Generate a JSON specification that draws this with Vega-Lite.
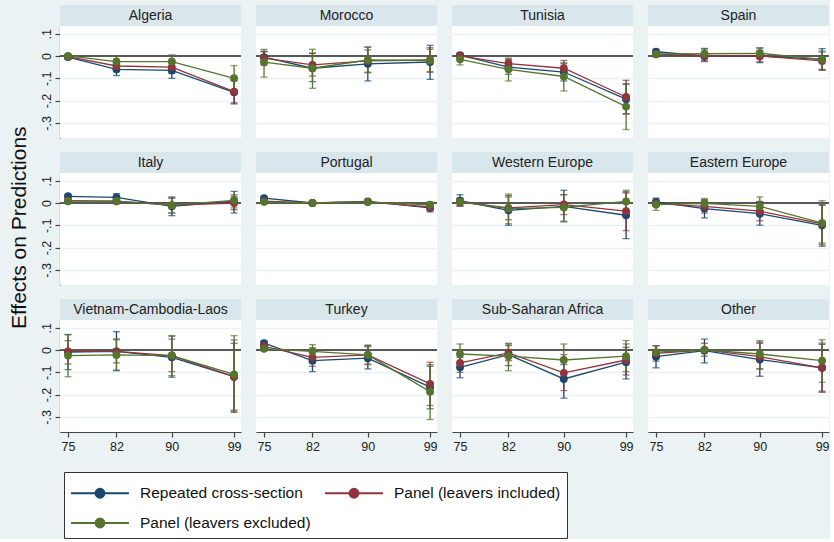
{
  "$schema": "https://vega.github.io/schema/vega-lite/v6.json",
  "background": "#eaf2f3",
  "padding": {"left": 8, "top": 5, "right": 0, "bottom": 0},
  "title": {"text": "Effects on Predictions", "orient": "left", "anchor": "middle", "fontSize": 21, "fontWeight": "normal", "font": "Liberation Sans", "color": "#111", "offset": 10, "dx": 44},
  "data": {"values": [
    {"region":"Algeria","series":"Repeated cross-section","year":75,"est":-0.005,"lo":-0.015,"hi":0.005},
    {"region":"Algeria","series":"Repeated cross-section","year":82,"est":-0.06,"lo":-0.088,"hi":-0.032},
    {"region":"Algeria","series":"Repeated cross-section","year":90,"est":-0.065,"lo":-0.1,"hi":-0.03},
    {"region":"Algeria","series":"Repeated cross-section","year":99,"est":-0.163,"lo":-0.215,"hi":-0.11},
    {"region":"Morocco","series":"Repeated cross-section","year":75,"est":-0.005,"lo":-0.035,"hi":0.02},
    {"region":"Morocco","series":"Repeated cross-section","year":82,"est":-0.055,"lo":-0.115,"hi":0.012},
    {"region":"Morocco","series":"Repeated cross-section","year":90,"est":-0.035,"lo":-0.112,"hi":0.04},
    {"region":"Morocco","series":"Repeated cross-section","year":99,"est":-0.027,"lo":-0.105,"hi":0.048},
    {"region":"Tunisia","series":"Repeated cross-section","year":75,"est":0.004,"lo":-0.006,"hi":0.014},
    {"region":"Tunisia","series":"Repeated cross-section","year":82,"est":-0.05,"lo":-0.082,"hi":-0.018},
    {"region":"Tunisia","series":"Repeated cross-section","year":90,"est":-0.072,"lo":-0.112,"hi":-0.035},
    {"region":"Tunisia","series":"Repeated cross-section","year":99,"est":-0.194,"lo":-0.26,"hi":-0.125},
    {"region":"Spain","series":"Repeated cross-section","year":75,"est":0.019,"lo":0.008,"hi":0.03},
    {"region":"Spain","series":"Repeated cross-section","year":82,"est":0.0,"lo":-0.025,"hi":0.034},
    {"region":"Spain","series":"Repeated cross-section","year":90,"est":0.0,"lo":-0.03,"hi":0.035},
    {"region":"Spain","series":"Repeated cross-section","year":99,"est":-0.015,"lo":-0.064,"hi":0.033},
    {"region":"Italy","series":"Repeated cross-section","year":75,"est":0.03,"lo":0.022,"hi":0.037},
    {"region":"Italy","series":"Repeated cross-section","year":82,"est":0.025,"lo":0.008,"hi":0.042},
    {"region":"Italy","series":"Repeated cross-section","year":90,"est":-0.015,"lo":-0.057,"hi":0.027},
    {"region":"Italy","series":"Repeated cross-section","year":99,"est":0.008,"lo":-0.045,"hi":0.052},
    {"region":"Portugal","series":"Repeated cross-section","year":75,"est":0.022,"lo":0.015,"hi":0.029},
    {"region":"Portugal","series":"Repeated cross-section","year":82,"est":0.0,"lo":-0.006,"hi":0.006},
    {"region":"Portugal","series":"Repeated cross-section","year":90,"est":0.007,"lo":0.0,"hi":0.014},
    {"region":"Portugal","series":"Repeated cross-section","year":99,"est":-0.022,"lo":-0.04,"hi":-0.006},
    {"region":"Western Europe","series":"Repeated cross-section","year":75,"est":0.01,"lo":-0.015,"hi":0.037},
    {"region":"Western Europe","series":"Repeated cross-section","year":82,"est":-0.033,"lo":-0.1,"hi":0.033},
    {"region":"Western Europe","series":"Repeated cross-section","year":90,"est":-0.015,"lo":-0.082,"hi":0.057},
    {"region":"Western Europe","series":"Repeated cross-section","year":99,"est":-0.055,"lo":-0.16,"hi":0.05},
    {"region":"Eastern Europe","series":"Repeated cross-section","year":75,"est":0.005,"lo":-0.012,"hi":0.022},
    {"region":"Eastern Europe","series":"Repeated cross-section","year":82,"est":-0.025,"lo":-0.067,"hi":0.012},
    {"region":"Eastern Europe","series":"Repeated cross-section","year":90,"est":-0.048,"lo":-0.1,"hi":0.005},
    {"region":"Eastern Europe","series":"Repeated cross-section","year":99,"est":-0.1,"lo":-0.194,"hi":-0.008},
    {"region":"Vietnam-Cambodia-Laos","series":"Repeated cross-section","year":75,"est":-0.01,"lo":-0.088,"hi":0.068},
    {"region":"Vietnam-Cambodia-Laos","series":"Repeated cross-section","year":82,"est":-0.006,"lo":-0.093,"hi":0.082},
    {"region":"Vietnam-Cambodia-Laos","series":"Repeated cross-section","year":90,"est":-0.033,"lo":-0.122,"hi":0.062},
    {"region":"Vietnam-Cambodia-Laos","series":"Repeated cross-section","year":99,"est":-0.12,"lo":-0.27,"hi":0.03},
    {"region":"Turkey","series":"Repeated cross-section","year":75,"est":0.031,"lo":0.021,"hi":0.041},
    {"region":"Turkey","series":"Repeated cross-section","year":82,"est":-0.048,"lo":-0.097,"hi":-0.003},
    {"region":"Turkey","series":"Repeated cross-section","year":90,"est":-0.037,"lo":-0.085,"hi":0.015},
    {"region":"Turkey","series":"Repeated cross-section","year":99,"est":-0.167,"lo":-0.264,"hi":-0.073},
    {"region":"Sub-Saharan Africa","series":"Repeated cross-section","year":75,"est":-0.078,"lo":-0.125,"hi":-0.033},
    {"region":"Sub-Saharan Africa","series":"Repeated cross-section","year":82,"est":-0.021,"lo":-0.07,"hi":0.02},
    {"region":"Sub-Saharan Africa","series":"Repeated cross-section","year":90,"est":-0.13,"lo":-0.216,"hi":-0.065},
    {"region":"Sub-Saharan Africa","series":"Repeated cross-section","year":99,"est":-0.055,"lo":-0.13,"hi":0.012},
    {"region":"Other","series":"Repeated cross-section","year":75,"est":-0.03,"lo":-0.08,"hi":0.019},
    {"region":"Other","series":"Repeated cross-section","year":82,"est":-0.003,"lo":-0.058,"hi":0.049},
    {"region":"Other","series":"Repeated cross-section","year":90,"est":-0.043,"lo":-0.118,"hi":0.035},
    {"region":"Other","series":"Repeated cross-section","year":99,"est":-0.08,"lo":-0.185,"hi":0.025},

    {"region":"Algeria","series":"Panel (leavers included)","year":75,"est":-0.003,"lo":-0.012,"hi":0.006},
    {"region":"Algeria","series":"Panel (leavers included)","year":82,"est":-0.045,"lo":-0.07,"hi":-0.02},
    {"region":"Algeria","series":"Panel (leavers included)","year":90,"est":-0.05,"lo":-0.078,"hi":-0.022},
    {"region":"Algeria","series":"Panel (leavers included)","year":99,"est":-0.16,"lo":-0.21,"hi":-0.11},
    {"region":"Morocco","series":"Panel (leavers included)","year":75,"est":-0.01,"lo":-0.04,"hi":0.02},
    {"region":"Morocco","series":"Panel (leavers included)","year":82,"est":-0.04,"lo":-0.09,"hi":0.012},
    {"region":"Morocco","series":"Panel (leavers included)","year":90,"est":-0.022,"lo":-0.073,"hi":0.027},
    {"region":"Morocco","series":"Panel (leavers included)","year":99,"est":-0.018,"lo":-0.073,"hi":0.037},
    {"region":"Tunisia","series":"Panel (leavers included)","year":75,"est":0.0,"lo":-0.008,"hi":0.008},
    {"region":"Tunisia","series":"Panel (leavers included)","year":82,"est":-0.034,"lo":-0.06,"hi":-0.01},
    {"region":"Tunisia","series":"Panel (leavers included)","year":90,"est":-0.055,"lo":-0.092,"hi":-0.02},
    {"region":"Tunisia","series":"Panel (leavers included)","year":99,"est":-0.184,"lo":-0.26,"hi":-0.109},
    {"region":"Spain","series":"Panel (leavers included)","year":75,"est":0.008,"lo":0.0,"hi":0.016},
    {"region":"Spain","series":"Panel (leavers included)","year":82,"est":0.0,"lo":-0.02,"hi":0.02},
    {"region":"Spain","series":"Panel (leavers included)","year":90,"est":0.0,"lo":-0.025,"hi":0.025},
    {"region":"Spain","series":"Panel (leavers included)","year":99,"est":-0.022,"lo":-0.062,"hi":0.018},
    {"region":"Italy","series":"Panel (leavers included)","year":75,"est":0.01,"lo":0.004,"hi":0.016},
    {"region":"Italy","series":"Panel (leavers included)","year":82,"est":0.008,"lo":0.0,"hi":0.016},
    {"region":"Italy","series":"Panel (leavers included)","year":90,"est":-0.01,"lo":-0.045,"hi":0.022},
    {"region":"Italy","series":"Panel (leavers included)","year":99,"est":0.0,"lo":-0.03,"hi":0.03},
    {"region":"Portugal","series":"Panel (leavers included)","year":75,"est":0.008,"lo":0.002,"hi":0.014},
    {"region":"Portugal","series":"Panel (leavers included)","year":82,"est":0.0,"lo":-0.005,"hi":0.005},
    {"region":"Portugal","series":"Panel (leavers included)","year":90,"est":0.005,"lo":0.0,"hi":0.01},
    {"region":"Portugal","series":"Panel (leavers included)","year":99,"est":-0.018,"lo":-0.032,"hi":-0.005},
    {"region":"Western Europe","series":"Panel (leavers included)","year":75,"est":0.005,"lo":-0.012,"hi":0.022},
    {"region":"Western Europe","series":"Panel (leavers included)","year":82,"est":-0.022,"lo":-0.075,"hi":0.027},
    {"region":"Western Europe","series":"Panel (leavers included)","year":90,"est":-0.007,"lo":-0.052,"hi":0.037},
    {"region":"Western Europe","series":"Panel (leavers included)","year":99,"est":-0.037,"lo":-0.124,"hi":0.045},
    {"region":"Eastern Europe","series":"Panel (leavers included)","year":75,"est":-0.003,"lo":-0.015,"hi":0.01},
    {"region":"Eastern Europe","series":"Panel (leavers included)","year":82,"est":-0.015,"lo":-0.045,"hi":0.015},
    {"region":"Eastern Europe","series":"Panel (leavers included)","year":90,"est":-0.037,"lo":-0.08,"hi":0.007},
    {"region":"Eastern Europe","series":"Panel (leavers included)","year":99,"est":-0.094,"lo":-0.18,"hi":-0.01},
    {"region":"Vietnam-Cambodia-Laos","series":"Panel (leavers included)","year":75,"est":-0.006,"lo":-0.063,"hi":0.042},
    {"region":"Vietnam-Cambodia-Laos","series":"Panel (leavers included)","year":82,"est":-0.006,"lo":-0.058,"hi":0.046},
    {"region":"Vietnam-Cambodia-Laos","series":"Panel (leavers included)","year":90,"est":-0.025,"lo":-0.097,"hi":0.049},
    {"region":"Vietnam-Cambodia-Laos","series":"Panel (leavers included)","year":99,"est":-0.12,"lo":-0.28,"hi":0.045},
    {"region":"Turkey","series":"Panel (leavers included)","year":75,"est":0.016,"lo":0.008,"hi":0.024},
    {"region":"Turkey","series":"Panel (leavers included)","year":82,"est":-0.033,"lo":-0.073,"hi":0.01},
    {"region":"Turkey","series":"Panel (leavers included)","year":90,"est":-0.022,"lo":-0.063,"hi":0.02},
    {"region":"Turkey","series":"Panel (leavers included)","year":99,"est":-0.152,"lo":-0.249,"hi":-0.055},
    {"region":"Sub-Saharan Africa","series":"Panel (leavers included)","year":75,"est":-0.058,"lo":-0.1,"hi":-0.018},
    {"region":"Sub-Saharan Africa","series":"Panel (leavers included)","year":82,"est":-0.013,"lo":-0.048,"hi":0.027},
    {"region":"Sub-Saharan Africa","series":"Panel (leavers included)","year":90,"est":-0.103,"lo":-0.182,"hi":-0.021},
    {"region":"Sub-Saharan Africa","series":"Panel (leavers included)","year":99,"est":-0.045,"lo":-0.112,"hi":0.027},
    {"region":"Other","series":"Panel (leavers included)","year":75,"est":-0.015,"lo":-0.05,"hi":0.019},
    {"region":"Other","series":"Panel (leavers included)","year":82,"est":0.0,"lo":-0.028,"hi":0.03},
    {"region":"Other","series":"Panel (leavers included)","year":90,"est":-0.03,"lo":-0.085,"hi":0.03},
    {"region":"Other","series":"Panel (leavers included)","year":99,"est":-0.08,"lo":-0.19,"hi":0.031},

    {"region":"Algeria","series":"Panel (leavers excluded)","year":75,"est":0.0,"lo":-0.008,"hi":0.008},
    {"region":"Algeria","series":"Panel (leavers excluded)","year":82,"est":-0.025,"lo":-0.05,"hi":0.0},
    {"region":"Algeria","series":"Panel (leavers excluded)","year":90,"est":-0.025,"lo":-0.055,"hi":0.005},
    {"region":"Algeria","series":"Panel (leavers excluded)","year":99,"est":-0.1,"lo":-0.157,"hi":-0.043},
    {"region":"Morocco","series":"Panel (leavers excluded)","year":75,"est":-0.028,"lo":-0.095,"hi":0.03},
    {"region":"Morocco","series":"Panel (leavers excluded)","year":82,"est":-0.055,"lo":-0.145,"hi":0.03},
    {"region":"Morocco","series":"Panel (leavers excluded)","year":90,"est":-0.018,"lo":-0.075,"hi":0.04},
    {"region":"Morocco","series":"Panel (leavers excluded)","year":99,"est":-0.02,"lo":-0.07,"hi":0.03},
    {"region":"Tunisia","series":"Panel (leavers excluded)","year":75,"est":-0.015,"lo":-0.04,"hi":0.01},
    {"region":"Tunisia","series":"Panel (leavers excluded)","year":82,"est":-0.06,"lo":-0.112,"hi":-0.015},
    {"region":"Tunisia","series":"Panel (leavers excluded)","year":90,"est":-0.092,"lo":-0.157,"hi":-0.03},
    {"region":"Tunisia","series":"Panel (leavers excluded)","year":99,"est":-0.227,"lo":-0.33,"hi":-0.127},
    {"region":"Spain","series":"Panel (leavers excluded)","year":75,"est":0.008,"lo":0.0,"hi":0.016},
    {"region":"Spain","series":"Panel (leavers excluded)","year":82,"est":0.01,"lo":-0.012,"hi":0.03},
    {"region":"Spain","series":"Panel (leavers excluded)","year":90,"est":0.012,"lo":-0.012,"hi":0.037},
    {"region":"Spain","series":"Panel (leavers excluded)","year":99,"est":-0.015,"lo":-0.06,"hi":0.022},
    {"region":"Italy","series":"Panel (leavers excluded)","year":75,"est":0.008,"lo":0.002,"hi":0.014},
    {"region":"Italy","series":"Panel (leavers excluded)","year":82,"est":0.008,"lo":0.002,"hi":0.014},
    {"region":"Italy","series":"Panel (leavers excluded)","year":90,"est":-0.01,"lo":-0.045,"hi":0.022},
    {"region":"Italy","series":"Panel (leavers excluded)","year":99,"est":0.012,"lo":-0.022,"hi":0.037},
    {"region":"Portugal","series":"Panel (leavers excluded)","year":75,"est":0.005,"lo":0.0,"hi":0.01},
    {"region":"Portugal","series":"Panel (leavers excluded)","year":82,"est":0.0,"lo":-0.004,"hi":0.004},
    {"region":"Portugal","series":"Panel (leavers excluded)","year":90,"est":0.004,"lo":0.0,"hi":0.008},
    {"region":"Portugal","series":"Panel (leavers excluded)","year":99,"est":-0.008,"lo":-0.024,"hi":0.004},
    {"region":"Western Europe","series":"Panel (leavers excluded)","year":75,"est":0.005,"lo":-0.01,"hi":0.02},
    {"region":"Western Europe","series":"Panel (leavers excluded)","year":82,"est":-0.025,"lo":-0.093,"hi":0.04},
    {"region":"Western Europe","series":"Panel (leavers excluded)","year":90,"est":-0.02,"lo":-0.085,"hi":0.037},
    {"region":"Western Europe","series":"Panel (leavers excluded)","year":99,"est":0.007,"lo":-0.045,"hi":0.057},
    {"region":"Eastern Europe","series":"Panel (leavers excluded)","year":75,"est":-0.007,"lo":-0.033,"hi":0.015},
    {"region":"Eastern Europe","series":"Panel (leavers excluded)","year":82,"est":-0.002,"lo":-0.022,"hi":0.02},
    {"region":"Eastern Europe","series":"Panel (leavers excluded)","year":90,"est":-0.015,"lo":-0.052,"hi":0.027},
    {"region":"Eastern Europe","series":"Panel (leavers excluded)","year":99,"est":-0.09,"lo":-0.187,"hi":0.01},
    {"region":"Vietnam-Cambodia-Laos","series":"Panel (leavers excluded)","year":75,"est":-0.025,"lo":-0.12,"hi":0.07},
    {"region":"Vietnam-Cambodia-Laos","series":"Panel (leavers excluded)","year":82,"est":-0.022,"lo":-0.09,"hi":0.05},
    {"region":"Vietnam-Cambodia-Laos","series":"Panel (leavers excluded)","year":90,"est":-0.025,"lo":-0.115,"hi":0.064},
    {"region":"Vietnam-Cambodia-Laos","series":"Panel (leavers excluded)","year":99,"est":-0.11,"lo":-0.276,"hi":0.064},
    {"region":"Turkey","series":"Panel (leavers excluded)","year":75,"est":0.005,"lo":-0.003,"hi":0.013},
    {"region":"Turkey","series":"Panel (leavers excluded)","year":82,"est":-0.006,"lo":-0.04,"hi":0.024},
    {"region":"Turkey","series":"Panel (leavers excluded)","year":90,"est":-0.022,"lo":-0.066,"hi":0.022},
    {"region":"Turkey","series":"Panel (leavers excluded)","year":99,"est":-0.187,"lo":-0.312,"hi":-0.066},
    {"region":"Sub-Saharan Africa","series":"Panel (leavers excluded)","year":75,"est":-0.018,"lo":-0.063,"hi":0.027},
    {"region":"Sub-Saharan Africa","series":"Panel (leavers excluded)","year":82,"est":-0.028,"lo":-0.093,"hi":0.03},
    {"region":"Sub-Saharan Africa","series":"Panel (leavers excluded)","year":90,"est":-0.045,"lo":-0.122,"hi":0.027},
    {"region":"Sub-Saharan Africa","series":"Panel (leavers excluded)","year":99,"est":-0.028,"lo":-0.097,"hi":0.042},
    {"region":"Other","series":"Panel (leavers excluded)","year":75,"est":-0.01,"lo":-0.02,"hi":0.0},
    {"region":"Other","series":"Panel (leavers excluded)","year":82,"est":0.0,"lo":-0.01,"hi":0.01},
    {"region":"Other","series":"Panel (leavers excluded)","year":90,"est":-0.018,"lo":-0.085,"hi":0.042},
    {"region":"Other","series":"Panel (leavers excluded)","year":99,"est":-0.048,"lo":-0.145,"hi":0.046}
  ]},
  "facet": {"field": "region", "type": "nominal", "sort": ["Algeria","Morocco","Tunisia","Spain","Italy","Portugal","Western Europe","Eastern Europe","Vietnam-Cambodia-Laos","Turkey","Sub-Saharan Africa","Other"], "header": {"labels": false, "title": null, "labelFontSize": 0, "labelPadding": 0, "labelExpr": "''"}},
  "columns": 4,
  "spacing": {"row": 35, "column": 15},
  "bounds": "flush",
  "spec": {
    "width": 181,
    "height": 112,
    "layer": [
      {
        "transform": [{"aggregate": [{"op": "count", "as": "n"}], "groupby": ["region"]}],
        "mark": {"type": "rect", "fill": "#d9e6eb"},
        "encoding": {
          "x": {"datum": 73.84, "type": "quantitative", "title": null},
          "x2": {"datum": 100.0},
          "y": {"datum": 0.1345, "type": "quantitative", "title": null},
          "y2": {"datum": 0.2287}
        }
      },
      {
        "transform": [{"aggregate": [{"op": "count", "as": "n"}], "groupby": ["region"]}],
        "mark": {"type": "text", "fontSize": 14, "font": "Liberation Sans", "color": "#222", "baseline": "middle", "align": "center"},
        "encoding": {
          "x": {"datum": 86.92, "type": "quantitative", "title": null},
          "y": {"datum": 0.181, "type": "quantitative", "title": null},
          "text": {"field": "region"}
        }
      },
      {
        "mark": {"type": "rule", "color": "#5a5a5a", "strokeWidth": 1.3},
        "encoding": {"y": {"datum": 0, "type": "quantitative", "title": null}}
      },
      {
        "mark": {"type": "errorbar", "ticks": {"size": 7}, "thickness": 1.3},
        "encoding": {
          "x": {"field": "year", "type": "quantitative", "title": null,
                "scale": {"domain": [73.84, 100.0], "nice": false, "zero": false},
                "axis": {"values": [75, 82, 90, 99], "tickCount": 10}},
          "y": {"field": "lo", "type": "quantitative", "title": null,
                "scale": {"domain": [-0.368, 0.1345], "nice": false, "zero": false},
                "axis": {"values": [-0.3, -0.2, -0.1, 0, 0.1], "tickCount": 10, "labelOverlap": false,
                         "labelExpr": "datum.value == 0 ? '0' : ((datum.value < 0 ? '-' : '') + '.' + round(abs(datum.value) * 10))"}},
          "y2": {"field": "hi"},
          "color": {"field": "series", "type": "nominal",
                    "scale": {"domain": ["Repeated cross-section", "Panel (leavers included)", "Panel (leavers excluded)"], "range": ["#1a476f", "#90353b", "#55752f"]},
                    "legend": {"orient": "none", "legendX": 4, "legendY": 446, "direction": "horizontal", "columns": 2, "title": null,
                               "symbolType": "M-1,0L3.14,0M0.75,0A0.32,0.32,0,1,1,1.39,0A0.32,0.32,0,1,1,0.75,0Z",
                               "symbolSize": 784, "symbolStrokeWidth": 2,
                               "labelFontSize": 15.5, "labelFont": "Liberation Sans", "labelColor": "#111", "labelOffset": 40, "labelLimit": 400,
                               "columnPadding": 10, "rowPadding": 6, "padding": 6,
                               "fillColor": "white", "strokeColor": "#333",
                               "encode": {"symbols": {"update": {"fill": {"scale": "color", "field": "value"}, "stroke": {"scale": "color", "field": "value"}, "strokeWidth": {"value": 2}, "opacity": {"value": 1}}}}}}
        }
      },
      {
        "mark": {"type": "line", "strokeWidth": 1.3},
        "encoding": {
          "x": {"field": "year", "type": "quantitative", "title": null},
          "y": {"field": "est", "type": "quantitative", "title": null},
          "color": {"field": "series", "type": "nominal"}
        }
      },
      {
        "mark": {"type": "point", "filled": true, "size": 62, "opacity": 1},
        "encoding": {
          "x": {"field": "year", "type": "quantitative", "title": null},
          "y": {"field": "est", "type": "quantitative", "title": null},
          "color": {"field": "series", "type": "nominal"}
        }
      }
    ]
  },
  "config": {
    "view": {"fill": "white", "stroke": null},
    "font": "Liberation Sans",
    "header": {"labels": false, "title": null, "labelFontSize": 0, "labelPadding": 0},
    "headerFacet": {"labels": false, "labelFontSize": 0, "labelPadding": 0},
    "axisX": {"grid": false, "tickCount": 10, "labelFontSize": 12.5, "labelFont": "Liberation Sans", "labelColor": "#222", "tickSize": 5, "labelPadding": 3, "domainColor": "#444", "tickColor": "#444", "domainWidth": 1.2, "tickWidth": 1.2, "labelFlush": false},
    "axisY": {"grid": true, "tickCount": 10, "gridColor": "#eaf2f3", "gridWidth": 1.5, "labelFontSize": 12.5, "labelFont": "Liberation Sans", "labelColor": "#222", "tickSize": 5, "labelPadding": 2, "labelAngle": 270, "labelAlign": "center", "labelBaseline": "bottom", "labelFlush": false, "labelOverlap": false, "domainColor": "#444", "tickColor": "#444", "domainWidth": 1.2, "tickWidth": 1.2}
  }
}
